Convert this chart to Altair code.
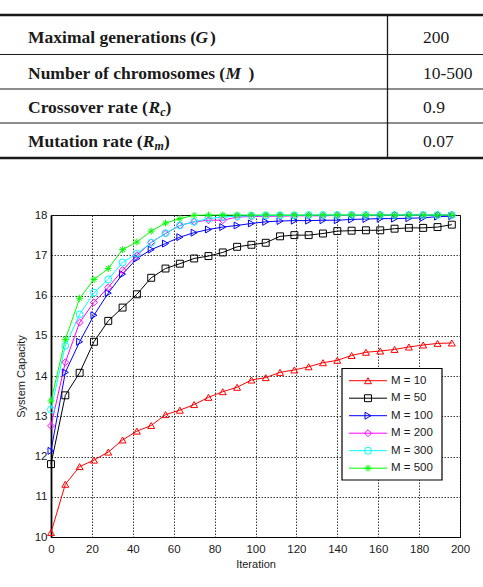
import altair as alt
import pandas as pd

# ---------------- chart data ----------------
iterations = [0, 7, 14, 21, 28, 35, 42, 49, 56, 63, 70, 77, 84, 91, 98, 105, 112,
              119, 126, 133, 140, 147, 154, 161, 168, 175, 182, 189, 196]

m10 = [10.11, 11.31, 11.75, 11.91, 12.11, 12.41, 12.63, 12.77, 13.04, 13.15, 13.29,
       13.47, 13.61, 13.72, 13.90, 13.96, 14.09, 14.15, 14.23, 14.33, 14.39, 14.51,
       14.59, 14.62, 14.66, 14.72, 14.77, 14.81, 14.82]
m50 = [11.81, 13.52, 14.08, 14.85, 15.37, 15.70, 16.03, 16.44, 16.67, 16.79, 16.92,
       16.98, 17.07, 17.21, 17.26, 17.31, 17.47, 17.50, 17.50, 17.54, 17.60, 17.61,
       17.62, 17.62, 17.66, 17.68, 17.68, 17.70, 17.76]
m100 = [12.14, 14.09, 14.85, 15.51, 16.06, 16.53, 16.92, 17.14, 17.29, 17.45, 17.56,
        17.64, 17.70, 17.74, 17.79, 17.83, 17.85, 17.86, 17.86, 17.87, 17.87, 17.89,
        17.90, 17.91, 17.91, 17.92, 17.93, 17.96, 17.97]
m200 = [12.76, 14.34, 15.33, 15.83, 16.20, 16.63, 17.00, 17.32, 17.54, 17.74, 17.83,
        17.87, 17.87, 17.95, 17.96, 17.97, 17.97, 17.98, 17.98, 17.98, 17.99, 17.99,
        17.99, 18.00, 18.00, 18.00, 18.00, 18.00, 18.00]
m300 = [13.17, 14.75, 15.53, 16.07, 16.40, 16.82, 17.04, 17.31, 17.55, 17.74, 17.83,
        17.91, 17.95, 17.97, 17.98, 17.99, 17.99, 17.99, 18.00, 18.00, 18.00, 18.00,
        18.00, 18.00, 18.00, 18.00, 18.00, 18.00, 18.00]
m500 = [13.38, 14.91, 15.93, 16.40, 16.67, 17.14, 17.33, 17.60, 17.80, 17.91, 17.99,
        18.00, 18.00, 18.00, 18.00, 18.00, 18.00, 18.00, 18.00, 18.00, 18.00, 18.00,
        18.00, 18.00, 18.00, 18.00, 18.00, 18.00, 18.00]

series_labels = ["M = 10", "M = 50", "M = 100", "M = 200", "M = 300", "M = 500"]
series_values = [m10, m50, m100, m200, m300, m500]
series_colors = ["#ff0000", "#000000", "#0000ff", "#ff00ff", "#00ffff", "#00ff00"]
ASTERISK = "M-1,0L1,0M0,-1L0,1M-0.7,-0.7L0.7,0.7M-0.7,0.7L0.7,-0.7"
series_shapes = ["triangle-up", "square", "triangle-right", "diamond", "circle", ASTERISK]

x_ticks = [0, 20, 40, 60, 80, 100, 120, 140, 160, 180, 200]
y_ticks = [10, 11, 12, 13, 14, 15, 16, 17, 18]

# ---------------- table content ----------------
table_values = ["200", "10-500", "0.9", "0.07"]
row_baselines = [42.5, 79.0, 113.3, 147.3]
# label pieces: (row, text, x)
label_bold = [(0, "Maximal generations (", 28), (0, ")", 210),
              (1, "Number of chromosomes (", 28), (1, ")", 248.5),
              (2, "Crossover rate (", 28), (2, ")", 165.5),
              (3, "Mutation rate (", 28), (3, ")", 164)]
label_italic = [(0, "G", 195.5), (1, "M", 225.5), (2, "R", 148.5), (3, "R", 142.7)]
label_sub = [(2, "c", 160.2), (3, "m", 154.5)]
table_hlines_y = [15, 54.5, 89, 123, 158]
table_hlines_w = [2.5, 1, 1, 1, 2.5]

# ---------------- layout ----------------
W, H = 483, 587
PAD_L, PAD_T = 51, 215
PLOT_W, PLOT_H = 409, 322
PX = alt.Scale(domain=[0, W], range=[-PAD_L, W - PAD_L], nice=False, zero=False)
PY = alt.Scale(domain=[0, H], range=[-PAD_T, H - PAD_T], nice=False, zero=False)

SANS = "Liberation Sans"
SERIF = "Liberation Serif"
TXT = "#1a1a1a"

# ---------------- main plot ----------------
rows = []
for lab, vals in zip(series_labels, series_values):
    for it, v in zip(iterations, vals):
        rows.append({"iteration": it, "value": v, "series": lab})
df = pd.DataFrame(rows)

xenc = alt.X("iteration:Q",
             scale=alt.Scale(domain=[0, 200], nice=False, zero=False),
             axis=alt.Axis(values=x_ticks, title="Iteration", grid=True,
                           gridColor="#222", gridDash=[1.5, 1.5], gridWidth=0.9,
                           ticks=False, labelFont=SANS, labelFontSize=11.5,
                           labelColor=TXT, labelPadding=6, labelFlush=False,
                           labelOverlap=False, titleFont=SANS, titleFontSize=11,
                           titleFontWeight="normal", titleColor=TXT, titlePadding=4,
                           domainColor="black", domainWidth=1.2))
yenc = alt.Y("value:Q",
             scale=alt.Scale(domain=[10, 18], nice=False, zero=False),
             axis=alt.Axis(values=y_ticks, title="System Capacity", grid=True,
                           gridColor="#222", gridDash=[1.5, 1.5], gridWidth=0.9,
                           ticks=False, labelFont=SANS, labelFontSize=11.5,
                           labelColor=TXT, labelPadding=4, labelFlush=False,
                           labelOverlap=False, titleFont=SANS, titleFontSize=11,
                           titleFontWeight="normal", titleColor=TXT, titlePadding=8,
                           domainColor="black", domainWidth=1.8))
color = alt.Color("series:N", scale=alt.Scale(domain=series_labels, range=series_colors),
                  legend=None)
shape = alt.Shape("series:N", scale=alt.Scale(domain=series_labels, range=series_shapes),
                  legend=None)

base = alt.Chart(df)
lines = base.mark_line(strokeWidth=1).encode(x=xenc, y=yenc, color=color,
                                             order=alt.Order("iteration:Q"))
points = base.mark_point(filled=False, size=48, strokeWidth=1, opacity=1).encode(
    x=xenc, y=yenc, color=color, shape=shape)
plot = alt.layer(lines, points)

# ---------------- table ----------------
hl = pd.DataFrame({"y": table_hlines_y, "w": table_hlines_w,
                   "x0": [0] * 5, "x1": [W] * 5})
hlines = alt.Chart(hl).mark_rule(color="#1a1a1a").encode(
    x=alt.X("x0:Q", scale=PX, axis=None), x2="x1:Q",
    y=alt.Y("y:Q", scale=PY, axis=None),
    strokeWidth=alt.StrokeWidth("w:Q", scale=None))
vl = pd.DataFrame({"x": [387.5], "y0": [table_hlines_y[0]], "y1": [table_hlines_y[-1]]})
vline = alt.Chart(vl).mark_rule(color="#1a1a1a", strokeWidth=1.3).encode(
    x=alt.X("x:Q", scale=PX, axis=None),
    y=alt.Y("y0:Q", scale=PY, axis=None), y2="y1:Q")


def text_layer(pieces, dy=0.0, **mark):
    d = pd.DataFrame({"x": [p[2] for p in pieces],
                      "y": [row_baselines[p[0]] + dy for p in pieces],
                      "t": [p[1] for p in pieces]})
    return alt.Chart(d).mark_text(align="left", baseline="alphabetic", color=TXT,
                                  font=SERIF, **mark).encode(
        x=alt.X("x:Q", scale=PX, axis=None),
        y=alt.Y("y:Q", scale=PY, axis=None),
        text="t:N")


t_bold = text_layer(label_bold, fontSize=17.5, fontWeight="bold")
t_ital = text_layer(label_italic, fontSize=17.5, fontWeight="bold", fontStyle="italic")
t_sub = text_layer(label_sub, dy=2.5, fontSize=12, fontWeight="bold", fontStyle="italic")
t_val = text_layer([(i, v, 423) for i, v in enumerate(table_values)], fontSize=17.5)

# ---------------- legend (inside plot) ----------------
LEG_X0, LEG_X1, LEG_Y0, LEG_Y1 = 342, 442, 368.5, 480
leg_y = [380.7, 398.2, 415.7, 433.2, 450.7, 468.2]
box = alt.Chart(pd.DataFrame({"x0": [LEG_X0], "x1": [LEG_X1], "y0": [LEG_Y0], "y1": [LEG_Y1]})
                ).mark_rect(fill="white", stroke="black", strokeWidth=1.2).encode(
    x=alt.X("x0:Q", scale=PX, axis=None), x2="x1:Q",
    y=alt.Y("y0:Q", scale=PY, axis=None), y2="y1:Q")
ld = pd.DataFrame({"series": series_labels, "y": leg_y,
                   "x0": [349] * 6, "x1": [387] * 6, "xm": [368] * 6, "xt": [391] * 6})
leg_lines = alt.Chart(ld).mark_rule(strokeWidth=1).encode(
    x=alt.X("x0:Q", scale=PX, axis=None), x2="x1:Q",
    y=alt.Y("y:Q", scale=PY, axis=None), color=color)
leg_pts = alt.Chart(ld).mark_point(filled=False, size=48, strokeWidth=1, opacity=1).encode(
    x=alt.X("xm:Q", scale=PX, axis=None),
    y=alt.Y("y:Q", scale=PY, axis=None), color=color, shape=shape)
leg_txt = alt.Chart(ld).mark_text(align="left", baseline="middle", font=SANS,
                                  fontSize=11.5, color=TXT).encode(
    x=alt.X("xt:Q", scale=PX, axis=None),
    y=alt.Y("y:Q", scale=PY, axis=None), text="series:N")

chart = alt.layer(
    plot, box, leg_lines, leg_pts, leg_txt,
    hlines, vline, t_bold, t_ital, t_sub, t_val
).resolve_scale(x="independent", y="independent").properties(
    width=PLOT_W, height=PLOT_H,
    autosize=alt.AutoSizeParams(type="none"),
    padding={"left": PAD_L, "top": PAD_T, "right": W - PAD_L - PLOT_W,
             "bottom": H - PAD_T - PLOT_H},
    background="white",
).configure_view(stroke="black", strokeWidth=1)

chart.save("out.html", embed_options={"renderer": "svg", "actions": False})
